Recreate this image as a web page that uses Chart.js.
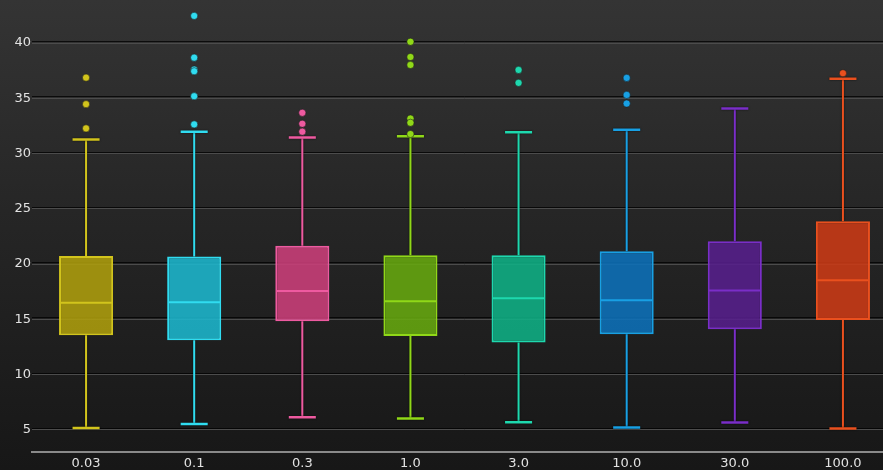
<!DOCTYPE html>
<html>
<head>
<meta charset="utf-8">
<script src="https://cdn.jsdelivr.net/npm/chart.js@4.4.1/dist/chart.umd.min.js"></script>
<style>
  html, body { margin: 0; padding: 0; overflow: hidden; width: 883px; height: 470px; }
  body { background: linear-gradient(to bottom, #343434 0%, #262626 45%, #171717 100%); }
  canvas { display: block; }
</style>
</head>
<body>
<canvas id="chart" width="902" height="470"></canvas>
<script>
// Box-plot summary per group
const categories  = ['0.03', '0.1', '0.3', '1.0', '3.0', '10.0', '30.0', '100.0'];
const whiskerLow  = [5.18, 5.54, 6.14, 6.02, 5.69, 5.21, 5.66, 5.12];
const q1          = [13.56, 13.11, 14.82, 13.50, 12.90, 13.65, 14.10, 14.94];
const medians     = [16.50, 16.56, 17.56, 16.65, 16.92, 16.72, 17.62, 18.55];
const q3          = [20.74, 20.68, 21.67, 20.80, 20.80, 21.16, 22.06, 23.87];
const whiskerHigh = [31.28, 31.98, 31.46, 31.56, 31.92, 32.16, 34.08, 36.76];
const outliers = [
  [36.87, 34.47, 32.28],
  [42.46, 38.68, 37.60, 37.45, 35.19, 32.64],
  [33.69, 32.70, 31.98],
  [40.12, 38.74, 38.02, 33.17, 32.79, 31.77],
  [37.57, 36.40],
  [36.85, 35.31, 34.53],
  [],
  [37.27]
];
const yTicks = [5, 10, 15, 20, 25, 30, 35, 40];

const lineColors = ['#d2c41c', '#30dcf0', '#ee5aa0', '#90d818', '#1ed8ae', '#18a0e4', '#7a2ec8', '#ea501e'];
const fillColors = ['rgba(174,158,13,0.88)', 'rgba(29,183,206,0.88)', 'rgba(204,63,122,0.88)',
                    'rgba(102,168,15,0.88)', 'rgba(15,177,133,0.88)', 'rgba(13,113,186,0.88)',
                    'rgba(86,31,140,0.88)', 'rgba(204,58,22,0.88)'];

const outlierPoints = [];
const outlierColors = [];
outliers.forEach((vals, i) => vals.forEach(v => {
  outlierPoints.push({ x: categories[i], y: v });
  outlierColors.push(lineColors[i]);
}));

// Whiskers, caps, medians and the darker edge above each grid line
const boxParts = {
  id: 'boxParts',
  beforeDatasetsDraw(chart) {
    const { ctx, scales: { x, y }, chartArea } = chart;
    ctx.save();
    ctx.strokeStyle = 'rgba(0,0,0,0.75)';
    ctx.lineWidth = 1;
    yTicks.forEach(t => {
      const py = Math.round(y.getPixelForValue(t)) - 0.5;
      ctx.beginPath();
      ctx.moveTo(chartArea.left, py - 1);
      ctx.lineTo(chartArea.right, py - 1);
      ctx.stroke();
    });
    const meta = chart.getDatasetMeta(0);
    categories.forEach((c, i) => {
      const bw = meta.data[i].width;
      const cx = x.getPixelForValue(i);
      const capHalf = bw / 4;
      ctx.shadowColor = 'rgba(0,0,0,0.7)';
      ctx.shadowBlur = 2;
      ctx.strokeStyle = lineColors[i];
      ctx.lineWidth = 2;
      ctx.beginPath();
      ctx.moveTo(cx, y.getPixelForValue(q3[i]));
      ctx.lineTo(cx, y.getPixelForValue(whiskerHigh[i]));
      ctx.moveTo(cx, y.getPixelForValue(q1[i]));
      ctx.lineTo(cx, y.getPixelForValue(whiskerLow[i]));
      ctx.stroke();
      ctx.lineWidth = 2.5;
      ctx.beginPath();
      const hy = y.getPixelForValue(whiskerHigh[i]);
      const ly = y.getPixelForValue(whiskerLow[i]);
      ctx.moveTo(cx - capHalf, hy); ctx.lineTo(cx + capHalf, hy);
      ctx.moveTo(cx - capHalf, ly); ctx.lineTo(cx + capHalf, ly);
      ctx.stroke();
    });
    ctx.restore();
  },
  afterDatasetsDraw(chart) {
    const { ctx, scales: { x, y } } = chart;
    const meta = chart.getDatasetMeta(0);
    ctx.save();
    categories.forEach((c, i) => {
      const bw = meta.data[i].width;
      const cx = x.getPixelForValue(i);
      const my = y.getPixelForValue(medians[i]);
      ctx.strokeStyle = lineColors[i];
      ctx.lineWidth = 2;
      ctx.beginPath();
      ctx.moveTo(cx - bw / 2 + 1, my);
      ctx.lineTo(cx + bw / 2 - 1, my);
      ctx.stroke();
    });
    ctx.restore();
  }
};

new Chart(document.getElementById('chart'), {
  type: 'bar',
  data: {
    labels: categories,
    datasets: [
      {
        type: 'bar',
        data: categories.map((c, i) => [q1[i], q3[i]]),
        backgroundColor: fillColors,
        borderColor: lineColors,
        borderWidth: 2,
        borderSkipped: false,
        barPercentage: 0.5,
        categoryPercentage: 1.0,
        order: 2
      },
      {
        type: 'line',
        data: outlierPoints,
        showLine: false,
        pointRadius: 3.6,
        pointBackgroundColor: outlierColors,
        pointBorderColor: 'rgba(30,30,30,0.55)',
        pointBorderWidth: 1,
        order: 1
      }
    ]
  },
  options: {
    responsive: false,
    animation: false,
    layout: { padding: { left: 0, right: 0, top: 0, bottom: 0 } },
    plugins: { legend: { display: false }, tooltip: { enabled: false } },
    scales: {
      x: {
        type: 'category',
        offset: true,
        grid: { display: true, drawOnChartArea: false, drawTicks: false },
        border: { display: true, color: '#8a8a8a', width: 2 },
        ticks: { color: '#e2e2e2', font: { family: 'DejaVu Sans', size: 13 }, padding: 4, maxRotation: 0 },
        afterFit(scale) { scale.height = 18; }
      },
      y: {
        min: 3.0,
        max: 43.1,
        afterBuildTicks(scale) { scale.ticks = yTicks.map(v => ({ value: v })); },
        grid: { color: '#4c4c4c', lineWidth: 1, drawTicks: false },
        border: { display: false },
        ticks: { color: '#e2e2e2', font: { family: 'DejaVu Sans', size: 13 }, padding: 1 },
        afterFit(scale) { scale.width = 32; }
      }
    }
  },
  plugins: [boxParts]
});
</script>
</body>
</html>
